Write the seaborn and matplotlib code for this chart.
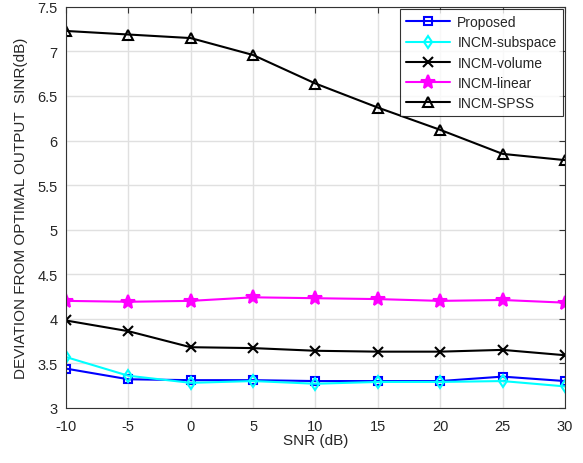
import matplotlib
matplotlib.use("Agg")
import matplotlib.pyplot as plt
import seaborn as sns
import pandas as pd

snr = [-10, -5, 0, 5, 10, 15, 20, 25, 30]
proposed = [3.44, 3.32, 3.31, 3.31, 3.30, 3.30, 3.30, 3.35, 3.30]
subspace = [3.57, 3.36, 3.28, 3.30, 3.27, 3.29, 3.29, 3.30, 3.24]
volume = [3.98, 3.86, 3.68, 3.67, 3.64, 3.63, 3.63, 3.65, 3.59]
linear = [4.20, 4.19, 4.20, 4.24, 4.23, 4.22, 4.20, 4.21, 4.18]
spss = [7.23, 7.19, 7.15, 6.96, 6.64, 6.37, 6.12, 5.85, 5.78]

names = ["Proposed", "INCM-subspace", "INCM-volume", "INCM-linear", "INCM-SPSS"]
series = [proposed, subspace, volume, linear, spss]
colors = ["#0000ff", "#00ffff", "#000000", "#ff00ff", "#000000"]
markers = ["s", "d", "x", "*", "^"]
msizes = [5.5, 6.5, 6.5, 10, 7.5]

rows = []
for n, s in zip(names, series):
    for x, y in zip(snr, s):
        rows.append({"SNR": x, "val": y, "method": n})
df = pd.DataFrame(rows)

sns.set_style("white")
plt.rcParams["font.family"] = ["Liberation Sans", "DejaVu Sans"]
plt.rcParams["axes.unicode_minus"] = False

fig = plt.figure(figsize=(5.83, 4.64), dpi=100)
ax = fig.add_axes([0.113, 0.119, 0.856, 0.864])

for n, c, m, ms in zip(names, colors, markers, msizes):
    sub = df[df["method"] == n]
    sns.lineplot(data=sub, x="SNR", y="val", ax=ax, color=c, marker=m,
                 markersize=ms, markerfacecolor="none" if m not in ("x", "*") else c,
                 markeredgecolor=c, markeredgewidth=1.5, linewidth=1.5, label=n)

ax.set_xlim(-10, 30)
ax.set_ylim(3, 7.5)
ax.set_xticks(snr)
ax.set_xticklabels([str(v) for v in snr])
ax.set_yticks([3, 3.5, 4, 4.5, 5, 5.5, 6, 6.5, 7, 7.5])
ax.set_yticklabels(["3", "3.5", "4", "4.5", "5", "5.5", "6", "6.5", "7", "7.5"])
ax.grid(True, color="#e0e0e0", linewidth=1)
ax.tick_params(direction="in", length=4, labelsize=10.5, color="#333333", top=True, right=True,
               labeltop=False, labelright=False)
ax.tick_params(axis="x", pad=8)
ax.tick_params(axis="y", pad=6)
for sp in ax.spines.values():
    sp.set_color("#333333")
    sp.set_linewidth(0.8)
ax.set_xlabel("SNR (dB)", fontsize=11, labelpad=0)
ax.set_ylabel("DEVIATION FROM OPTIMAL OUTPUT  SINR(dB)", fontsize=11, labelpad=7)

leg = ax.legend(loc="upper right", fontsize=10, frameon=True, fancybox=False,
                edgecolor="black", borderaxespad=0.15, handlelength=3.2,
                labelspacing=0.45, borderpad=0.45, handletextpad=0.5)
leg.get_frame().set_linewidth(0.8)

fig.savefig("out.png", dpi=100)
